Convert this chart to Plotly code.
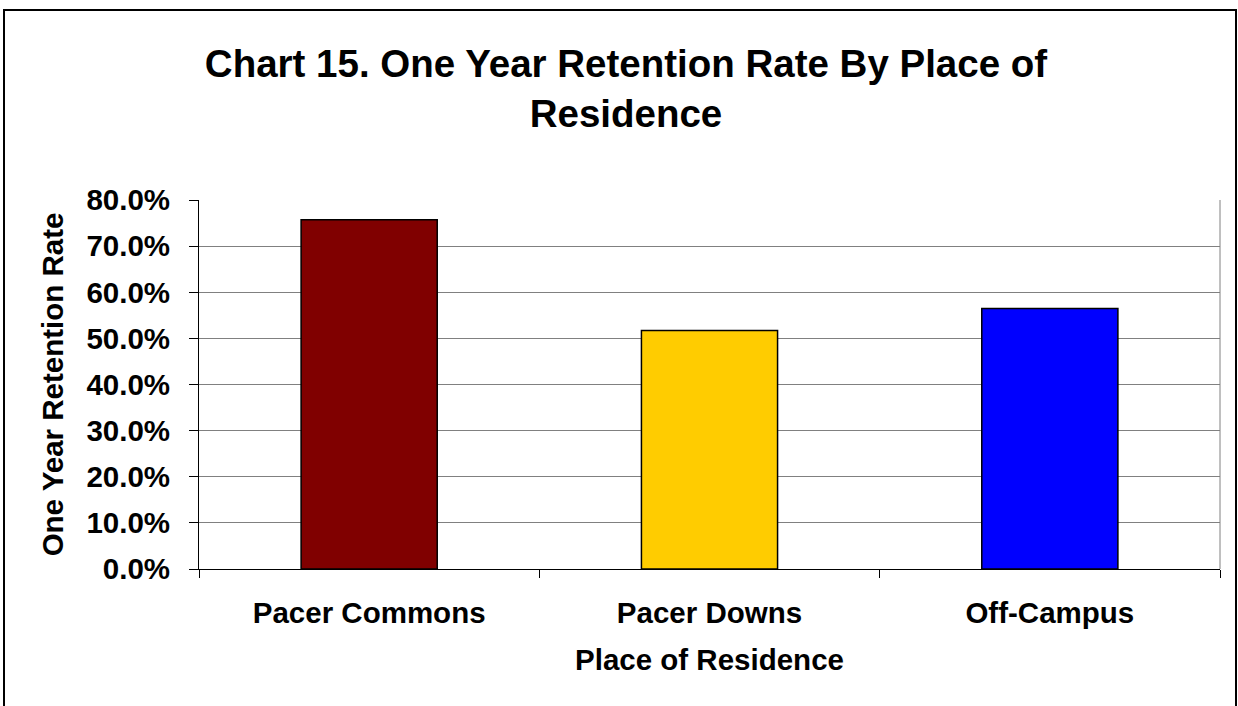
import plotly.graph_objects as go

categories = ["Pacer Commons", "Pacer Downs", "Off-Campus"]
retention = [0.757, 0.517, 0.565]
colors = ["#800000", "#FFCC00", "#0000FF"]
y_ticks = [0.0, 0.1, 0.2, 0.3, 0.4, 0.5, 0.6, 0.7, 0.8]

W, H = 1238, 706
L, R, T, B = 199, 18, 200, 137
pw, ph = W - L - R, H - T - B

def px_x(p):
    return (p - L) / pw

def px_y(p):
    return (H - B - p) / ph

FONT = "Liberation Sans, Arial, sans-serif"
AX_FONT = dict(size=29.5, family=FONT, color="black", weight="bold")

fig = go.Figure(go.Bar(
    x=categories, y=retention,
    marker=dict(color=colors, line=dict(color="black", width=1.5)),
    width=0.4,
))

fig.update_layout(
    width=W, height=H,
    margin=dict(l=L, r=R, t=T, b=B),
    paper_bgcolor="white", plot_bgcolor="white",
    showlegend=False,
    font=dict(family=FONT, color="black", size=20),
    title=dict(
        text="Chart 15. One Year Retention Rate By Place of<br>Residence",
        x=626 / W, xanchor="center", y=1 - 77 / H, yanchor="middle",
        font=dict(size=38.5, family=FONT, color="black", weight="bold"),
    ),
    xaxis=dict(
        showline=True, linecolor="black", linewidth=1,
        ticks="outside", tickson="boundaries", ticklen=8, tickcolor="black",
        tickfont=AX_FONT, ticklabelstandoff=18,
        title=dict(text="Place of Residence", font=AX_FONT, standoff=20),
    ),
    yaxis=dict(
        range=[0, 0.8], tickvals=y_ticks, tickformat=".1%",
        showline=True, linecolor="black", linewidth=1,
        ticks="outside", ticklen=9, tickcolor="black",
        showgrid=True, gridcolor="#808080", gridwidth=1,
        tickfont=AX_FONT, ticklabelstandoff=13,
        title=dict(text="One Year Retention Rate", font=AX_FONT, standoff=14),
        zeroline=False,
    ),
    shapes=[
        dict(type="rect", xref="paper", yref="paper",
             x0=px_x(4), x1=px_x(1236), y0=px_y(720), y1=px_y(10),
             line=dict(color="black", width=2), fillcolor="rgba(0,0,0,0)", layer="below"),
        dict(type="line", xref="paper", yref="paper",
             x0=1, x1=1, y0=0, y1=1, line=dict(color="#808080", width=1)),
    ],
)

fig.write_html("out.html")
